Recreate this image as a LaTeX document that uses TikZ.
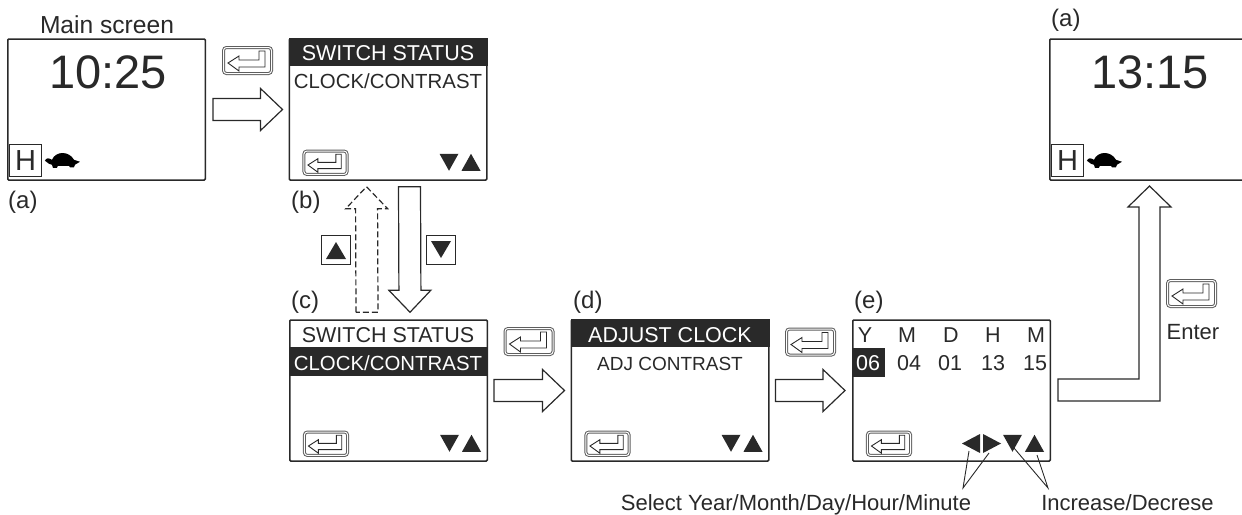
\documentclass[tikz,border=0pt]{standalone}
\usepackage{fontspec}
\setmainfont{Liberation Sans}
\usetikzlibrary{calc,positioning}
\definecolor{ink}{gray}{0.16}
\tikzset{
    screen/.style={draw=ink, line width=1.5pt, rounded corners=1pt, minimum width=197.5pt, minimum height=141pt, inner sep=0pt},
    clocktxt/.style={anchor=base, text=ink, font=\fontsize{47}{50}\selectfont},
    lcdtxt/.style={anchor=base, text=ink, font=\fontsize{21.5}{24}\selectfont},
    lcdnarrow/.style={anchor=base, text=ink, font=\fontsize{20.4}{24}\selectfont},
    captxt/.style={anchor=base, text=ink, font=\fontsize{22}{24}\selectfont},
    tagtxt/.style={anchor=base west, inner sep=0pt, text=ink, font=\fontsize{24}{26}\selectfont},
    hkey/.style={draw=ink, line width=.9pt, minimum size=32pt, inner sep=0pt, text=ink, font=\fontsize{29}{30}\selectfont},
    tribox/.style={draw=ink, line width=.9pt, minimum size=29pt, inner sep=0pt},
    blockline/.style={draw=ink, line width=1.2pt, line join=miter},
    thinline/.style={draw=ink, line width=.9pt},
    enterkey/.pic={
        \draw[draw=ink!75, line width=1pt, double=white, double distance=1pt, rounded corners=3pt] (-24,-13) rectangle (24,13);
        \draw[thinline] (-19.5,2.5) -- (-8.5,-4.5) -- (-8.5,-.5) -- (11.5,-.5) -- (11.5,-9.5) -- (17.5,-9.5) -- (17.5,6.5) -- (-8.5,6.5) -- (-8.5,10.5) -- cycle;
    },
    updown/.pic={
        \fill[ink] (-48,-27) -- (-29,-27) -- (-38.5,-10) -- cycle;
        \fill[ink] (-26,-10) -- (-7,-10) -- (-16.5,-27) -- cycle;
    },
    turtle/.pic={
        \fill[black] (3,0) .. controls (4,-3) and (7,-3) .. (10,-1) .. controls (14,-10) and (27,-10) .. (32,-1) -- (38,1) -- (33,4) -- (32,6.5) -- (28,6.5) -- (27,5) -- (16,5) -- (15,7) -- (11,7) -- (10,4) -- (7,3) -- cycle;
    },
}
% block arrow: from, to, head length 22, shaft half width 11, head half width 21
\newcommand{\blockarrow}[3][]{
    \coordinate (hb) at ($(#3)!22pt!(#2)$);
    \draw[blockline,#1] ($(#2)!11pt!90:(#3)$) -- ($(hb)!11pt!-90:(#2)$) -- ($(hb)!21pt!-90:(#2)$) -- (#3)
        -- ($(hb)!21pt!90:(#2)$) -- ($(hb)!11pt!90:(#2)$) -- ($(#2)!11pt!-90:(#3)$) -- cycle;
}

\begin{document}
\begin{tikzpicture}[x=1pt,y=-1pt]
    \useasboundingbox (0,0) rectangle (1242,514);

    % Screens
    \foreach \n/\x/\y in {a/106.5/109.5, b/388/109.5, c/388.5/390.5, d/670/390.5, e/951.5/390.5, f/1148.5/109.5} {
        \node[screen] (\n) at (\x,\y) {};
    }

    % Highlighted bars
    \fill[ink] (b.north west) rectangle ([yshift=-28pt]b.north east);
    \fill[ink] ([yshift=-28pt]c.north west) rectangle ([yshift=-57pt]c.north east);
    \fill[ink] (d.north west) rectangle ([yshift=-28pt]d.north east);
    \fill[ink] (853,348) rectangle (885,377);

    % Screen texts
    \node[clocktxt] (clockA) at (108,88) {10:25};
    \node[clocktxt] (clockF) at (1150,88) {13:15};
    \node[lcdtxt, text=white] (stB) at (388,60) {SWITCH STATUS};
    \node[lcdnarrow] (ccB) at (388,88) {CLOCK/CONTRAST};
    \node[lcdtxt] (stC) at (388,342) {SWITCH STATUS};
    \node[lcdnarrow, text=white] (ccC) at (388,370) {CLOCK/CONTRAST};
    \node[lcdtxt, text=white] (acD) at (670,342) {ADJUST CLOCK};
    \node[lcdtxt, font=\fontsize{19}{24}\selectfont] (ctD) at (670,370) {ADJ CONTRAST};

    % Date columns
    \foreach \i/\lx/\l/\vx/\v in {1/865/Y/868/06, 2/907/M/909/04, 3/951/D/950/01, 4/993/H/993/13, 5/1036/M/1035/15} {
        \node[lcdtxt] (eh\i) at (\lx,342) {\l};
        \node[lcdtxt] (ev\i) at (\vx,370) {\v};
    }
    \node[lcdtxt, text=white, fill=ink, inner sep=0pt] (ev1) at (868,370) {06};

    % H key and turtle
    \foreach \n in {a,f} {
        \node[hkey] (h\n) at ([xshift=18.5pt,yshift=20pt]\n.south west) {H};
        \pic at (h\n.east) {turtle};
    }

    % Enter keys
    \pic at (247.5,60.5) {enterkey};
    \pic at (529,341.5) {enterkey};
    \pic at (810.5,342) {enterkey};
    \pic at (1191.5,293.5) {enterkey};
    \foreach \n in {b,c,d,e} {
        \pic[scale=.9] at ([xshift=37pt,yshift=18pt]\n.south west) {enterkey};
        \pic at (\n.south east) {updown};
    }

    % Cursor triangles
    \fill[ink] (980,434) -- (980,453) -- (962,443.5) -- cycle;
    \fill[ink] (983,434) -- (983,453) -- (1001,443.5) -- cycle;

    % Block arrows
    \blockarrow{[xshift=7pt]a.east}{[xshift=-6pt]b.west}
    \blockarrow{[xshift=6pt]c.east}{[xshift=-6pt]d.west}
    \blockarrow{[xshift=6pt]d.east}{[xshift=-7pt]e.west}
    \blockarrow{[xshift=21.5pt,yshift=-6pt]b.south}{[xshift=21.5pt,yshift=7pt]c.north}
    \blockarrow[dash pattern=on 6pt off 3pt]{[xshift=-21.5pt,yshift=7pt]c.north}{[xshift=-21.5pt,yshift=-6pt]b.south}
    \draw[blockline] ([xshift=7pt,yshift=11.5pt]e.east) -- ++(81,0) -- ++(0,-172) -- ++(-11,0) -- ++(21.5,-21) -- ++(21.5,21) -- ++(-11,0) -- ++(0,194) -- ++(-102,0) -- cycle;

    % Button boxes
    \node[tribox] (upbtn) at (335.5,249.5) {};
    \fill[ink] (326,259) -- (346,259) -- (336,242) -- cycle;
    \node[tribox] (downbtn) at (441,249.5) {};
    \fill[ink] (431,241) -- (451,241) -- (441,258) -- cycle;

    % Labels
    \node[tagtxt, anchor=base, font=\fontsize{24.6}{26}\selectfont] (mainlbl) at (107,33) {Main screen};
    \foreach \n/\x/\y/\t in {ta/8/208/a, tb/291/208/b, tc/291/308/c, td/573/308/d, te/854/308/e, tf/1051/27/a} {
        \node[tagtxt] (\n) at (\x,\y) {(\t)};
    }
    \node[captxt] (enterlbl) at (1193,339) {Enter};
    \node[captxt] (selectlbl) at (796,510) {Select Year/Month/Day/Hour/Minute};
    \node[captxt] (incrlbl) at (1127.5,510) {Increase/Decrese};

    % Pointer lines
    \coordinate (selp) at (963,488);
    \coordinate (incp) at (1048,488);
    \draw[thinline] (969,451) -- (selp) -- (989,453);
    \draw[thinline] (1014,448) -- (incp) -- (1037,455);
\end{tikzpicture}
\end{document}
